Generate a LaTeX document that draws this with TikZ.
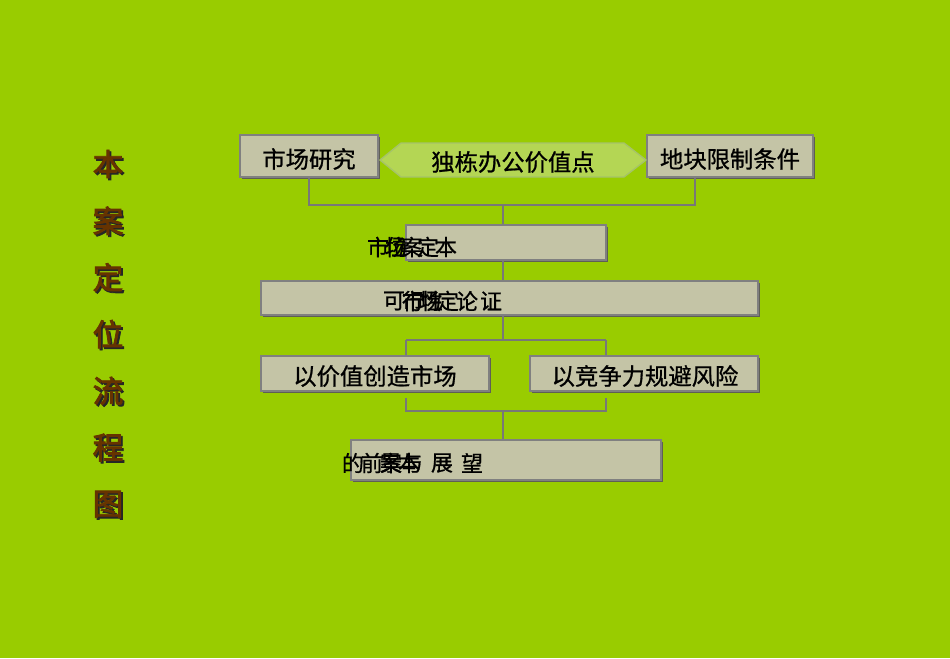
\documentclass[tikz,border=0pt]{standalone}
\usepackage{fontspec}
\setmainfont{Liberation Sans}
\newfontfamily\cjk[AutoFakeBold=0.8]{Noto Sans CJK SC}
\newfontfamily\cjkt[AutoFakeBold=2.5]{Noto Sans CJK SC}
\usetikzlibrary{calc}
\definecolor{bggreen}{RGB}{153,204,0}
\definecolor{boxfill}{RGB}{196,196,166}
\definecolor{boxline}{RGB}{128,128,128}
\definecolor{shad}{RGB}{95,95,85}
\definecolor{hexfill}{RGB}{180,214,84}
\definecolor{hexline}{RGB}{165,195,105}
\definecolor{titlebrown}{RGB}{102,51,0}
\definecolor{conn}{RGB}{120,120,120}
\begin{document}
\begin{tikzpicture}[x=0.75pt,y=-0.75pt,
  box/.style={draw=boxline, line width=1pt, fill=boxfill, inner sep=0pt,
    preaction={fill=shad, transform canvas={xshift=1.3pt,yshift=-1.3pt}}},
  lbl/.style={font=\cjk\bfseries\fontsize{17.5}{20}\selectfont, text=black, inner sep=0pt},
  glyph/.style={font=\cjk\bfseries\fontsize{16.5}{18}\selectfont, text=black, inner sep=0pt},
  ttl/.style={font=\cjkt\bfseries\fontsize{23}{26}\selectfont, text=titlebrown, inner sep=0pt},
  ttlsh/.style={font=\cjkt\bfseries\fontsize{23}{26}\selectfont, text=black!85, inner sep=0pt},
  link/.style={draw=conn, line width=1.6pt}]
\fill[bggreen] (0,0) rectangle (950,658);
\useasboundingbox (0,0) rectangle (950,658);

% title
\foreach \c [count=\i from 0] in {本,案,定,位,流,程,图}{
  \node[ttlsh] (ts\i) at ({108+1.8},{164+\i*56.7+1.8}) {\c};
  \node[ttl] (t\i) at (108,{164+\i*56.7}) {\c};
}

% top row
\node[box, minimum width=138*0.75pt, minimum height=42*0.75pt] (b1) at (309,156) {};
\node[box, minimum width=166*0.75pt, minimum height=42*0.75pt] (b3) at (730,156) {};
\path[draw=hexline, line width=1pt, fill=hexfill]
  (380,160) -- (401,143) -- (624,143) -- (646,160) -- (624,177) -- (401,177) -- cycle;
\node[lbl] (l1t) at (309,159) {市场研究};
\node[lbl] (l3t) at (730,159) {地块限制条件};
\node[lbl] (hx) at (513,162) {独栋办公价值点};

% middle boxes
\node[box, minimum width=200*0.75pt, minimum height=35*0.75pt] (b4) at (506,242.5) {};
\node[box, minimum width=497*0.75pt, minimum height=34*0.75pt] (b5) at (509.5,298) {};
\node[box, minimum width=228*0.75pt, minimum height=35*0.75pt] (b6) at (375,373.5) {};
\node[box, minimum width=228*0.75pt, minimum height=35*0.75pt] (b7) at (644,373.5) {};
\node[box, minimum width=310*0.75pt, minimum height=40*0.75pt] (b8) at (506,460) {};
\node[lbl] (l6t) at (375,376) {以价值创造市场};
\node[lbl] (l7t) at (645,376) {以竞争力规避风险};

% garbled overlapping texts
\foreach \c/\x in {市/378,场/396,位/396,案/412,定/428,本/446}{
  \node[glyph] at (\x,247) {\c};
}
\foreach \c/\x in {可/394,行/413,市/413,场/430,性/432,定/448,论/467,证/491}{
  \node[glyph] at (\x,301) {\c};
}
\foreach \c/\x in {的/353,前/372,案/391,景/391,本/409,与/412,展/442,望/472}{
  \node[glyph] at (\x,463) {\c};
}

% connectors
\coordinate (j1) at (503,205);
\coordinate (j2) at (503,340);
\coordinate (j3) at (503,411);
\draw[link] (b1.south) |- (j1);
\draw[link] ([xshift=49*0.75pt]b3.south west) |- (j1);
\draw[link] (j1) -- (j1 |- b4.north);
\draw[link] (j1 |- b4.south) -- (j1 |- b5.north);
\draw[link] (j1 |- b5.south) -- (j2);
\coordinate (l1) at (406,340);
\coordinate (r1) at (606,340);
\draw[link] (l1) -- (r1);
\draw[link] (l1) -- (l1 |- b6.north);
\draw[link] (r1) -- (r1 |- b7.north);
\coordinate (l2) at (406,398);
\coordinate (r2) at (606,398);
\draw[link] (l2) |- (j3) -| (r2);
\draw[link] (j3) -- (j3 |- b8.north);
\end{tikzpicture}
\end{document}
